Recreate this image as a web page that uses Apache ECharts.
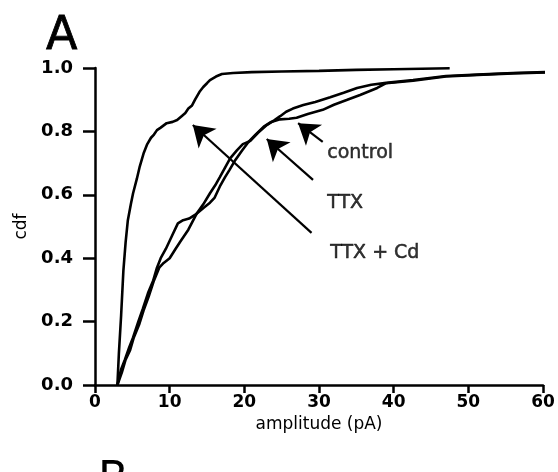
<!DOCTYPE html>
<html>
<head>
<meta charset="utf-8">
<script src="https://cdn.jsdelivr.net/npm/echarts@6/dist/echarts.min.js"></script>
<style>
  html, body { margin: 0; padding: 0; background: #fff; }
  #chart { width: 558px; height: 472px; }
</style>
</head>
<body>
<div id="chart"></div>
<script>
// Cumulative distributions of event amplitudes: [amplitude (pA), cdf]
const ttxCd = [
  [3.0, 0], [3.2, 0.1], [3.5, 0.22], [3.8, 0.36], [4.1, 0.45], [4.4, 0.52],
  [4.8, 0.57], [5.1, 0.605], [5.6, 0.65], [6.0, 0.69], [6.5, 0.73], [7.0, 0.76],
  [7.5, 0.78], [7.9, 0.79], [8.3, 0.804], [8.8, 0.812], [9.6, 0.826], [10.4, 0.83],
  [11.0, 0.836], [11.6, 0.848], [12.1, 0.858], [12.5, 0.872], [13.0, 0.882],
  [13.4, 0.9], [14.0, 0.925], [14.5, 0.94], [15.0, 0.952], [15.4, 0.962],
  [16.2, 0.973], [17.0, 0.981], [18.5, 0.984], [21.0, 0.987], [25.0, 0.989],
  [30.0, 0.991], [35.0, 0.994], [40.0, 0.996], [47.5, 0.999]
];
const ttx = [
  [3.0, 0], [3.5, 0.05], [4.0, 0.08], [4.6, 0.12], [5.1, 0.15], [5.8, 0.2],
  [6.4, 0.24], [7.1, 0.29], [7.8, 0.33], [8.3, 0.37], [8.8, 0.4], [9.5, 0.43],
  [10.3, 0.47], [11.1, 0.51], [11.8, 0.52], [12.6, 0.525], [13.6, 0.54],
  [14.5, 0.57], [15.4, 0.605], [16.1, 0.63], [16.7, 0.655], [17.4, 0.685],
  [18.1, 0.715], [19.0, 0.74], [19.8, 0.76], [20.8, 0.77], [21.8, 0.795],
  [23.0, 0.82], [24.0, 0.835], [24.8, 0.848], [25.6, 0.862], [26.5, 0.872],
  [27.9, 0.883], [29.5, 0.893], [31.5, 0.908], [33.3, 0.922], [35.1, 0.937],
  [37.0, 0.947], [39.0, 0.953], [42.6, 0.962], [47.0, 0.975], [52.0, 0.98],
  [56.0, 0.984], [60.3, 0.987]
];
const control = [
  [3.0, 0], [3.6, 0.04], [4.1, 0.08], [4.7, 0.11], [5.2, 0.15], [5.9, 0.19],
  [6.5, 0.235], [7.2, 0.28], [7.9, 0.33], [8.6, 0.37], [9.2, 0.385], [10.0, 0.4],
  [10.8, 0.43], [11.5, 0.455], [12.5, 0.49], [13.6, 0.54], [14.6, 0.56],
  [15.4, 0.575], [16.0, 0.59], [16.8, 0.63], [17.4, 0.655], [18.0, 0.678],
  [18.8, 0.71], [19.7, 0.74], [20.5, 0.765], [21.5, 0.79], [22.6, 0.815],
  [23.6, 0.83], [24.8, 0.838], [26.0, 0.84], [27.0, 0.843], [28.5, 0.855],
  [30.5, 0.868], [32.0, 0.884], [33.7, 0.899], [35.5, 0.915], [37.8, 0.937],
  [39.0, 0.952], [42.6, 0.96], [47.0, 0.973], [52.0, 0.979], [56.0, 0.983],
  [60.3, 0.986]
];

// Annotation arrows: [tail, head] in data coordinates
const arrowTtxCd = [[29.0, 0.48], [13.1, 0.82]];
const arrowTtx = [[29.2, 0.647], [23.0, 0.776]];
const arrowControl = [[30.5, 0.767], [27.2, 0.826]];

// Annotation labels: [amplitude, cdf, text]
const labels = [
  [31.1, 0.732, 'control'],
  [31.1, 0.574, 'TTX'],
  [31.5, 0.416, 'TTX + Cd']
];

const xTicks = { min: 0, max: 60, interval: 10 };
const yTicks = { min: 0, max: 1, interval: 0.2 };

const FONT = 'DejaVu Sans';
const INK = '#000';

function curve(name, data) {
  return {
    name: name,
    type: 'line',
    data: data,
    showSymbol: false,
    symbol: 'none',
    smooth: false,
    animation: false,
    lineStyle: { color: INK, width: 2.6 },
    z: 3
  };
}

function arrowItem(pair) {
  return [{ coord: pair[0] }, { coord: pair[1] }];
}

const chart = echarts.init(document.getElementById('chart'), null, { renderer: 'canvas' });

chart.setOption({
  backgroundColor: '#fff',
  animation: false,
  title: {
    text: 'A',
    left: 41,
    top: 9,
    textStyle: {
      fontFamily: FONT, fontSize: 46, fontWeight: 'normal', color: INK,
      textBorderColor: INK, textBorderWidth: 0.8
    }
  },
  graphic: [{
    type: 'text',
    left: 98,
    top: 460,
    style: { text: 'B', font: 'normal 44px "DejaVu Sans"', fill: INK }
  }],
  grid: { left: 95, right: 15, top: 68, bottom: 87 },
  xAxis: {
    type: 'value',
    min: xTicks.min,
    max: xTicks.max,
    interval: xTicks.interval,
    offset: 2,
    name: 'amplitude (pA)',
    nameLocation: 'middle',
    nameGap: 24,
    nameTextStyle: { fontFamily: FONT, fontSize: 17, color: INK },
    axisLine: { lineStyle: { color: INK, width: 2.5 } },
    axisTick: { length: 8, lineStyle: { color: INK, width: 2.5 } },
    axisLabel: { margin: 7, fontFamily: FONT, fontSize: 17, fontWeight: 'bold', color: INK },
    splitLine: { show: false }
  },
  yAxis: {
    type: 'value',
    min: yTicks.min,
    max: yTicks.max,
    interval: yTicks.interval,
    offset: 3,
    name: 'cdf',
    nameLocation: 'middle',
    nameGap: 60,
    nameRotate: 90,
    nameTextStyle: { fontFamily: FONT, fontSize: 17, color: INK },
    axisLine: { lineStyle: { color: INK, width: 2.5 } },
    axisTick: { length: 12, lineStyle: { color: INK, width: 2.5 } },
    axisLabel: {
      margin: 19,
      fontFamily: FONT, fontSize: 18, fontWeight: 'bold', color: INK,
      formatter: v => v.toFixed(1)
    },
    splitLine: { show: false }
  },
  series: [
    curve('TTX + Cd', ttxCd),
    curve('TTX', ttx),
    Object.assign(curve('control', control), {
      markLine: {
        silent: true,
        symbol: ['none', 'arrow'],
        symbolSize: 20,
        label: { show: false },
        lineStyle: { color: INK, width: 2.2, type: 'solid' },
        data: [arrowItem(arrowTtxCd), arrowItem(arrowTtx), arrowItem(arrowControl)]
      }
    }),
    {
      name: 'labels',
      type: 'scatter',
      symbolSize: 0,
      silent: true,
      data: labels.map(l => ({ value: [l[0], l[1]], name: l[2] })),
      label: {
        show: true,
        position: 'right',
        distance: 0,
        formatter: p => p.name,
        fontFamily: FONT,
        fontSize: 19,
        color: INK,
        textBorderColor: INK,
        textBorderWidth: 0.5
      }
    }
  ]
});
</script>
</body>
</html>
